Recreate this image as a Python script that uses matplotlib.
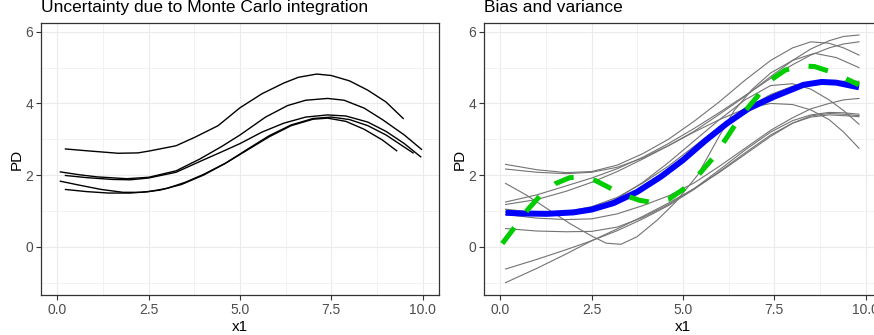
"""Partial dependence: Monte Carlo uncertainty (left) and bias/variance (right)."""

import matplotlib

matplotlib.use("Agg")
import matplotlib.pyplot as plt
from matplotlib.ticker import MultipleLocator

plt.rcParams["font.family"] = ["Liberation Sans", "DejaVu Sans"]

# ---- left panel: PD curves from repeated Monte Carlo integration ----
mc_x = [
    [0.22, 0.8, 1.66, 2.2, 2.5, 3.25, 3.75, 4.4, 5.0, 5.6, 6.2, 6.6, 7.1, 7.5, 8.0, 8.5, 9.0, 9.47],
    [0.08, 0.6, 1.1, 1.9, 2.5, 3.25, 3.9, 4.5, 5.0, 5.7, 6.3, 6.8, 7.4, 7.85, 8.4, 8.9, 9.5, 9.97],
    [0.22, 0.8, 1.5, 2.0, 2.5, 3.25, 3.9, 4.5, 5.0, 5.6, 6.2, 6.8, 7.4, 7.9, 8.5, 9.0, 9.5, 9.95],
    [0.08, 0.6, 1.2, 1.8, 2.3, 2.8, 3.4, 4.0, 4.6, 5.2, 5.8, 6.4, 7.0, 7.5, 8.0, 8.5, 9.0, 9.74],
    [0.22, 0.8, 1.4, 2.0, 2.5, 3.0, 3.5, 4.0, 4.6, 5.2, 5.8, 6.4, 7.0, 7.4, 7.9, 8.4, 8.9, 9.29],
]
mc_y = [
    [2.73, 2.68, 2.61, 2.62, 2.67, 2.82, 3.05, 3.38, 3.88, 4.27, 4.57, 4.73, 4.82, 4.78, 4.63, 4.37, 4.04, 3.58],
    [2.09, 2.01, 1.95, 1.90, 1.94, 2.12, 2.45, 2.80, 3.12, 3.62, 3.94, 4.09, 4.14, 4.09, 3.87, 3.55, 3.12, 2.72],
    [1.99, 1.93, 1.88, 1.87, 1.92, 2.08, 2.38, 2.65, 2.88, 3.20, 3.45, 3.62, 3.68, 3.65, 3.48, 3.22, 2.88, 2.51],
    [1.83, 1.72, 1.60, 1.52, 1.52, 1.58, 1.74, 2.00, 2.33, 2.72, 3.10, 3.40, 3.58, 3.62, 3.55, 3.38, 3.12, 2.62],
    [1.60, 1.54, 1.50, 1.50, 1.54, 1.63, 1.80, 2.02, 2.33, 2.70, 3.07, 3.38, 3.56, 3.59, 3.50, 3.28, 2.98, 2.68],
]

# ---- right panel: PD of models refit on new samples ----
fit_x = [0.14, 1.0, 1.8, 2.5, 3.2, 3.9, 4.6, 5.3, 6.0, 6.7, 7.4, 8.0, 8.5, 9.0, 9.4, 9.82]
fit_y = [
    [2.30, 2.15, 2.07, 2.10, 2.28, 2.60, 3.00, 3.50, 4.05, 4.65, 5.20, 5.55, 5.72, 5.68, 5.55, 5.35],
    [2.17, 2.08, 2.04, 2.08, 2.22, 2.48, 2.82, 3.22, 3.70, 4.20, 4.75, 5.20, 5.52, 5.75, 5.87, 5.91],
    [1.25, 1.45, 1.70, 1.92, 2.18, 2.50, 2.88, 3.30, 3.75, 4.22, 4.70, 5.08, 5.35, 5.55, 5.66, 5.72],
    [1.18, 1.32, 1.55, 1.80, 2.10, 2.45, 2.82, 3.20, 3.55, 3.85, 4.00, 3.97, 3.82, 3.55, 3.20, 2.75],
    [1.05, 0.95, 0.98, 1.12, 1.38, 1.78, 2.25, 2.80, 3.35, 3.85, 4.25, 4.48, 4.57, 4.61, 4.62, 4.62],
    [0.97, 0.88, 0.90, 1.05, 1.35, 1.80, 2.35, 2.95, 3.55, 4.10, 4.50, 4.55, 4.40, 4.10, 3.80, 3.42],
    [0.90, 0.80, 0.76, 0.78, 0.92, 1.15, 1.42, 1.78, 2.25, 2.75, 3.25, 3.60, 3.85, 4.00, 4.10, 4.14],
    [0.51, 0.44, 0.42, 0.43, 0.55, 0.82, 1.18, 1.62, 2.15, 2.70, 3.20, 3.52, 3.68, 3.75, 3.74, 3.70],
    [-0.62, -0.35, -0.08, 0.17, 0.45, 0.78, 1.15, 1.60, 2.10, 2.62, 3.12, 3.45, 3.62, 3.68, 3.66, 3.63],
    [-1.00, -0.60, -0.20, 0.17, 0.50, 0.85, 1.22, 1.62, 2.08, 2.58, 3.08, 3.45, 3.65, 3.72, 3.70, 3.66],
]
dip_x = [0.14, 0.7, 1.3, 1.9, 2.5, 2.9, 3.3, 3.74, 4.3, 4.8, 5.4, 6.0, 6.4, 6.9, 7.4, 8.0, 8.6, 9.2, 9.82]
dip_y = [1.77, 1.45, 1.05, 0.65, 0.30, 0.10, 0.07, 0.28, 0.75, 1.25, 2.00, 3.10, 3.80, 4.40, 4.85, 5.20, 5.40, 5.28, 5.00]

mean_x = [0.14, 0.6, 1.28, 2.0, 2.5, 3.1, 3.74, 4.4, 5.0, 5.6, 6.2, 6.8, 7.5, 8.3, 8.8, 9.2, 9.82]
mean_y = [0.95, 0.93, 0.92, 0.96, 1.04, 1.22, 1.53, 1.96, 2.42, 2.95, 3.44, 3.86, 4.19, 4.52, 4.60, 4.58, 4.45]

true_x = [0.05, 0.4, 0.75, 1.1, 1.5, 1.9, 2.2, 2.6, 3.0, 3.4, 3.8, 4.2, 4.6, 5.0, 5.4, 5.8,
          6.2, 6.6, 7.0, 7.4, 7.8, 8.2, 8.6, 9.0, 9.4, 9.82]
true_y = [0.09, 0.56, 1.04, 1.44, 1.76, 1.93, 1.95, 1.85, 1.64, 1.44, 1.30, 1.23, 1.32, 1.60, 1.98, 2.45,
          3.05, 3.67, 4.15, 4.65, 4.93, 5.05, 5.03, 4.90, 4.72, 4.52]

W, H = 874, 335


def style_axes(ax):
    """theme_bw-like look."""
    ax.set_xlim(-0.45, 10.45)
    ax.set_ylim(-1.345, 6.245)
    ax.xaxis.set_major_locator(MultipleLocator(2.5))
    ax.xaxis.set_minor_locator(MultipleLocator(1.25))
    ax.yaxis.set_major_locator(MultipleLocator(2))
    ax.yaxis.set_minor_locator(MultipleLocator(1))
    ax.set_xticks([0, 2.5, 5, 7.5, 10], ["0.0", "2.5", "5.0", "7.5", "10.0"])
    ax.set_yticks([0, 2, 4, 6], ["0", "2", "4", "6"])
    ax.grid(which="major", color="#EBEBEB", lw=0.8)
    ax.grid(which="minor", color="#F0F0F0", lw=0.6)
    ax.set_axisbelow(True)
    ax.tick_params(which="major", length=3.5, width=0.8, color="#333333",
                   labelsize=10, labelcolor="#4D4D4D", pad=2.2)
    ax.tick_params(which="minor", length=0)
    for spine in ax.spines.values():
        spine.set_color("#333333")
        spine.set_linewidth(0.9)


fig = plt.figure(figsize=(W / 100, H / 100), dpi=100)
bottom, height = 1 - 295 / H, (295 - 23) / H
ax1 = fig.add_axes([41 / W, bottom, 398 / W, height])
ax2 = fig.add_axes([484 / W, bottom, 398 / W, height])

for xs, ys in zip(mc_x, mc_y):
    ax1.plot(xs, ys, color="black", lw=1.0)

for ys in fit_y:
    ax2.plot(fit_x, ys, color="#737373", lw=0.8)
ax2.plot(dip_x, dip_y, color="#737373", lw=0.8)
ax2.plot(mean_x, mean_y, color="#0000FF", lw=4.3, solid_capstyle="butt")
ax2.plot(true_x, true_y, color="#00CD00", lw=3.6, dashes=(4, 4), dash_capstyle="butt")

for ax, left, title in [(ax1, 41, "Uncertainty due to Monte Carlo integration"),
                        (ax2, 484, "Bias and variance")]:
    style_axes(ax)
    fig.text(left / W, 1 - 12 / H, title, fontsize=12.5, va="baseline", ha="left")
    fig.text((left + 199) / W, 1 - 331 / H, "x1", fontsize=11, va="baseline", ha="center")
    fig.text((left - 24) / W, 1 - 159 / H, "PD", fontsize=11, va="center", ha="center",
             rotation=90)

fig.savefig("out.png", dpi=100)
